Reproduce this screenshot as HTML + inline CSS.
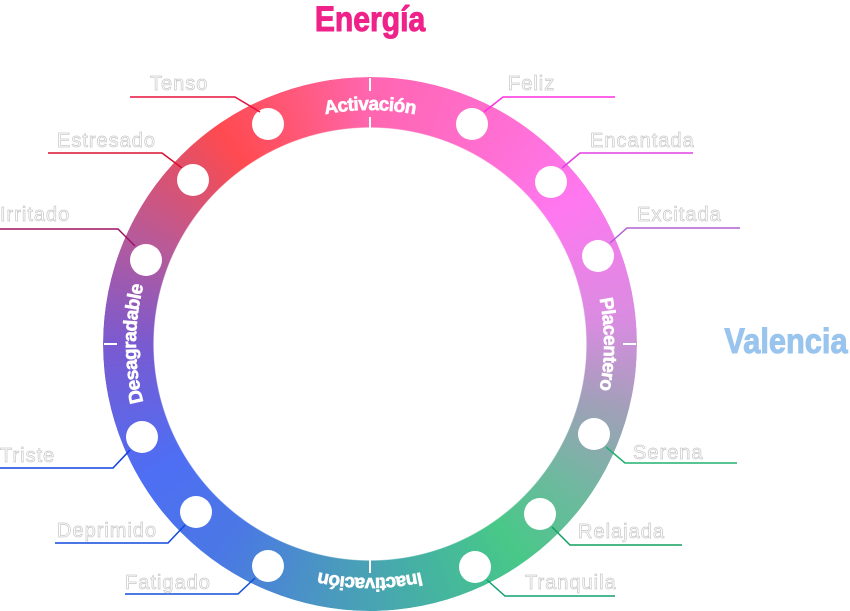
<!DOCTYPE html>
<html><head><meta charset="utf-8"><style>
html,body{margin:0;padding:0;background:#fff;width:850px;height:611px;overflow:hidden}
svg{position:absolute;left:0;top:0}
.lbl{font-family:"Liberation Sans",sans-serif;font-size:20px;fill:#fff;stroke:#c8c8c8;stroke-width:0.7;letter-spacing:1px}
.ring{font-family:"Liberation Sans",sans-serif;font-weight:bold;font-size:19px;fill:#fff;stroke:#fff;stroke-width:0.6;letter-spacing:-0.6px}
.ttl{font-family:"Liberation Sans",sans-serif;font-weight:bold;font-size:35px;stroke-width:1}
</style></head><body>
<div style="position:absolute;left:103px;top:77px;width:534px;height:534px;border-radius:50%;
background:conic-gradient(from 0deg,#ff66b0 0deg,#ff6ed0 30deg,#ff78f0 55deg,#d88ce0 85deg,#a0a0b8 105deg,#70b8a0 125deg,#48c888 145deg,#45b4a0 165deg,#4a98c0 190deg,#4a78e4 215deg,#4e6ef4 240deg,#7a5ad0 270deg,#b85a98 295deg,#e45066 315deg,#ff4a50 325deg,#ff5a80 345deg,#ff66b0 360deg);
-webkit-mask:radial-gradient(circle,transparent 216px,#000 217px);mask:radial-gradient(circle,transparent 216px,#000 217px)"></div>
<svg width="850" height="611" viewBox="0 0 850 611">
<defs>
<path id="pA" d="M370,578 A234,234 0 1 1 370.01,578"/>
<path id="pB" d="M370,110 A234,234 0 1 1 369.99,110"/>
</defs>
<g stroke="#fff" stroke-width="2">
<line x1="370" y1="78" x2="370" y2="91"/><line x1="370" y1="117" x2="370" y2="129"/>
<line x1="104" y1="344" x2="117" y2="344"/><line x1="623" y1="344" x2="636" y2="344"/>
<line x1="370" y1="560" x2="370" y2="573"/>
</g>
<text class="ring"><textPath href="#pA" startOffset="25%" text-anchor="middle">Desagradable</textPath></text>
<text class="ring"><textPath href="#pA" startOffset="50%" text-anchor="middle">Activación</textPath></text>
<text class="ring"><textPath href="#pA" startOffset="75%" text-anchor="middle">Placentero</textPath></text>
<text class="ring"><textPath href="#pB" startOffset="50%" text-anchor="middle">Inactivación</textPath></text>
<g fill="#fff">
<circle cx="268" cy="124" r="16"/><circle cx="193" cy="180" r="16"/><circle cx="146" cy="260" r="16"/>
<circle cx="142" cy="437" r="16"/><circle cx="196" cy="512" r="16"/><circle cx="268" cy="566" r="16"/>
<circle cx="472" cy="124" r="16"/><circle cx="551" cy="182" r="16"/><circle cx="598" cy="256" r="16"/>
<circle cx="594" cy="434" r="16"/><circle cx="540" cy="514" r="16"/><circle cx="475" cy="567" r="16"/>
</g>
<g fill="none" stroke-width="1.5">
<polyline stroke="#e8103c" points="260,112 235,97 130,97"/>
<polyline stroke="#d81030" points="182,168 162,153 48,153"/>
<polyline stroke="#a01060" points="135,246 118,229 0,229"/>
<polyline stroke="#1040e0" points="130,450 113,468 0,468"/>
<polyline stroke="#1048e0" points="185,525 168,543 55,543"/>
<polyline stroke="#1050d8" points="255,578 238,594 125,594"/>
<polyline stroke="#ff30e0" points="484,112 503,97 615,97"/>
<polyline stroke="#e040e0" points="562,168 580,153 693,153"/>
<polyline stroke="#b060d0" points="610,243 627,228 740,228"/>
<polyline stroke="#20b070" points="606,447 625,463 737,463"/>
<polyline stroke="#10a060" points="552,527 570,545 682,545"/>
<polyline stroke="#10a070" points="487,580 505,596 615,596"/>
</g>
<text class="lbl" x="150" y="90">Tenso</text>
<text class="lbl" x="57" y="147">Estresado</text>
<text class="lbl" x="0" y="221">Irritado</text>
<text class="lbl" x="0" y="462">Triste</text>
<text class="lbl" x="57" y="537">Deprimido</text>
<text class="lbl" x="125" y="589">Fatigado</text>
<text class="lbl" x="508" y="90">Feliz</text>
<text class="lbl" x="590" y="147">Encantada</text>
<text class="lbl" x="637" y="221">Excitada</text>
<text class="lbl" x="633" y="459">Serena</text>
<text class="lbl" x="578" y="538">Relajada</text>
<text class="lbl" x="525" y="589">Tranquila</text>
<text class="ttl" x="370" y="31" text-anchor="middle" fill="#ee2288" stroke="#ee2288" transform="translate(370,0) scale(0.86,1) translate(-370,0)">Energía</text>
<text class="ttl" x="786" y="353" text-anchor="middle" fill="#99c4ee" stroke="#99c4ee" transform="translate(786,0) scale(0.88,1) translate(-786,0)">Valencia</text>
</svg>
</body></html>
